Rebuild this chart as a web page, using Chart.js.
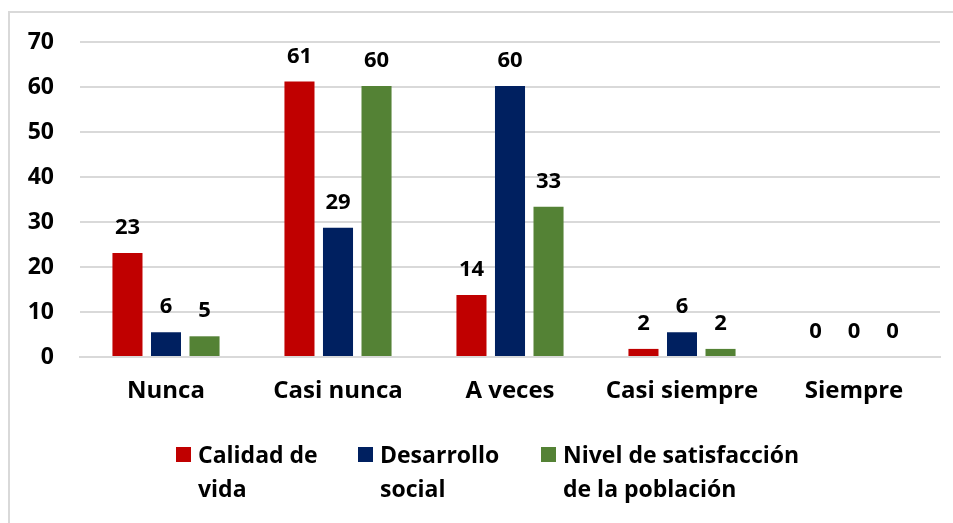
<!DOCTYPE html>
<html>
<head>
<meta charset="utf-8">
<style>
  html, body { margin: 0; padding: 0; background: #fff; overflow: hidden; }
  #marco { position: absolute; left: 8px; top: 11px; width: 1000px; height: 600px;
           border-top: 2px solid #d9d9d9; border-left: 2px solid #d9d9d9; }
  #wrap { position: absolute; left: 0; top: 0; width: 953px; height: 523px; }
</style>
</head>
<body>
<div id="marco"></div>
<div id="wrap"><canvas id="grafico"></canvas></div>

<script src="https://cdn.jsdelivr.net/npm/chart.js"></script>
<script>
  // datos
  const categorias = ['Nunca', 'Casi nunca', 'A veces', 'Casi siempre', 'Siempre']
  const calidadVida = [23.1, 61.2, 13.8, 1.8, 0]
  const desarrolloSocial = [5.5, 28.7, 60.2, 5.5, 0]
  const satisfaccion = [4.6, 60.2, 33.4, 1.8, 0]
  const nombresSeries = [['Calidad de', 'vida'], ['Desarrollo', 'social'], ['Nivel de satisfacción', 'de la población']]
  const colores = ['#C00000', '#002060', '#548235']
  const ticksY = [0, 10, 20, 30, 40, 50, 60, 70]

  const fuente = '"Open Sans", "Liberation Sans", sans-serif'

  // etiquetas encima de cada barra
  const etiquetas = {
    id: 'etiquetas',
    afterDatasetsDraw: (chart) => {
      const {ctx} = chart
      ctx.save()
      ctx.font = 'bold 22px ' + fuente
      ctx.fillStyle = '#000'
      ctx.textAlign = 'center'
      ctx.textBaseline = 'alphabetic'
      chart.data.datasets.forEach((ds, i) => {
        chart.getDatasetMeta(i).data.forEach((bar, j) => {
          ctx.fillText(Math.round(ds.data[j]), bar.x, bar.y - 19)
        })
      })
      ctx.restore()
    }
  }

  // leyenda en dos lineas
  const leyenda = {
    id: 'leyenda',
    afterDraw: (chart) => {
      const {ctx} = chart
      const columnas = [176, 358, 541]
      ctx.save()
      ctx.font = 'bold 23px ' + fuente
      ctx.textAlign = 'left'
      ctx.textBaseline = 'alphabetic'
      chart.data.datasets.forEach((ds, i) => {
        const x = columnas[i]
        ctx.fillStyle = ds.backgroundColor
        ctx.fillRect(x, 447, 15, 15)
        ctx.fillStyle = '#000'
        nombresSeries[i].forEach((linea, k) => {
          ctx.fillText(linea, x + 22, 463 + k * 34)
        })
      })
      ctx.restore()
    }
  }

  new Chart(document.getElementById('grafico'), {
    type: 'bar',
    data: {
      labels: categorias,
      datasets: [
        { label: nombresSeries[0].join(' '), data: calidadVida, backgroundColor: colores[0] },
        { label: nombresSeries[1].join(' '), data: desarrolloSocial, backgroundColor: colores[1] },
        { label: nombresSeries[2].join(' '), data: satisfaccion, backgroundColor: colores[2] }
      ]
    },
    options: {
      responsive: true,
      maintainAspectRatio: false,
      animation: false,
      layout: { padding: { top: 42, right: 13, bottom: 96, left: 0 } },
      datasets: {
        bar: { categoryPercentage: 0.672, barPercentage: 0.78, borderWidth: 0 }
      },
      scales: {
        x: {
          grid: { display: false, drawTicks: false },
          border: { display: true, color: '#d9d9d9', width: 2 },
          ticks: { color: '#000', padding: 20, font: { family: fuente, size: 24, weight: 'bold' } },
          afterFit: (scale) => { scale.height = 70 }
        },
        y: {
          min: 0,
          max: 70,
          afterBuildTicks: (scale) => { scale.ticks = ticksY.map(v => ({value: v})) },
          grid: { color: '#d9d9d9', lineWidth: 2, drawTicks: false },
          border: { display: false },
          ticks: { color: '#000', padding: 26, font: { family: fuente, size: 23, weight: 'bold' } },
          afterFit: (scale) => { scale.width = 80 }
        }
      },
      plugins: {
        legend: { display: false },
        tooltip: { enabled: false }
      }
    },
    plugins: [etiquetas, leyenda]
  })
</script>
</body>
</html>
